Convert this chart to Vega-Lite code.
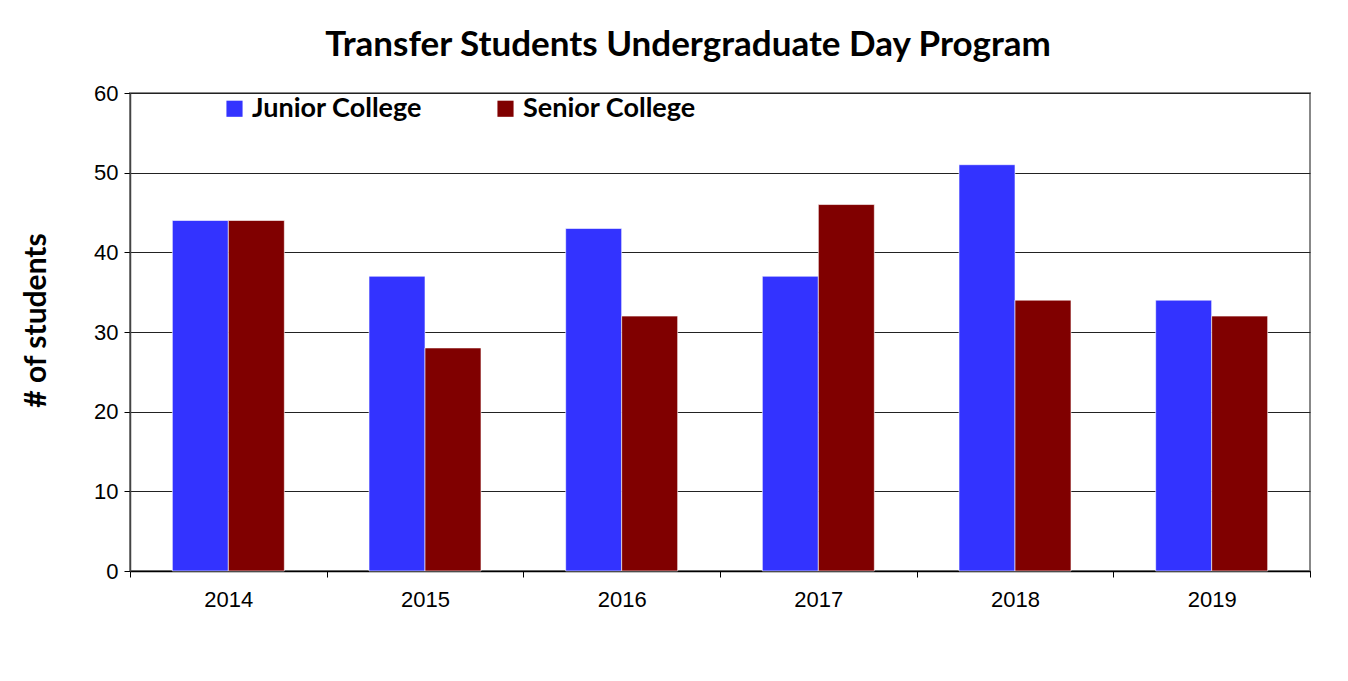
{
  "$schema": "https://vega.github.io/schema/vega-lite/v6.json",
  "width": 1180,
  "height": 478,
  "autosize": {"type": "none"},
  "padding": {"left": 130, "top": 93, "right": 38, "bottom": 110},
  "background": "white",
  "title": {
    "text": "Transfer Students Undergraduate Day Program",
    "font": "Lato",
    "fontSize": 35,
    "fontWeight": "bold",
    "color": "#000000",
    "anchor": "middle",
    "dx": -32,
    "offset": 19
  },
  "data": {
    "values": [
      {"year": "2014", "type": "Junior College", "students": 44},
      {"year": "2014", "type": "Senior College", "students": 44},
      {"year": "2015", "type": "Junior College", "students": 37},
      {"year": "2015", "type": "Senior College", "students": 28},
      {"year": "2016", "type": "Junior College", "students": 43},
      {"year": "2016", "type": "Senior College", "students": 32},
      {"year": "2017", "type": "Junior College", "students": 37},
      {"year": "2017", "type": "Senior College", "students": 46},
      {"year": "2018", "type": "Junior College", "students": 51},
      {"year": "2018", "type": "Senior College", "students": 34},
      {"year": "2019", "type": "Junior College", "students": 34},
      {"year": "2019", "type": "Senior College", "students": 32}
    ]
  },
  "mark": {"type": "bar", "stroke": "#ffffff", "strokeOpacity": 0.6, "strokeWidth": 1},
  "encoding": {
    "x": {
      "field": "year",
      "type": "nominal",
      "scale": {"paddingInner": 0, "paddingOuter": 0},
      "axis": {
        "title": null,
        "labelAngle": 0,
        "labelFont": "Liberation Sans",
        "labelFontSize": 22,
        "labelColor": "#000000",
        "labelPadding": 12,
        "tickBand": "extent",
        "tickSize": 6,
        "tickColor": "#000000",
        "domainColor": "#000000",
        "domainWidth": 1.5,
        "grid": false
      }
    },
    "xOffset": {
      "field": "type",
      "type": "nominal",
      "sort": ["Junior College", "Senior College"],
      "scale": {"paddingInner": 0, "paddingOuter": 0.756}
    },
    "y": {
      "field": "students",
      "type": "quantitative",
      "scale": {"domain": [0, 60], "nice": false},
      "axis": {
        "title": "# of students",
        "titleFont": "Lato",
        "titleFontSize": 30,
        "titleFontWeight": "bold",
        "titleColor": "#000000",
        "titlePadding": 42,
        "titleY": 227,
        "titleAlign": "center",
        "values": [0, 10, 20, 30, 40, 50, 60],
        "labelFont": "Liberation Sans",
        "labelFontSize": 22,
        "labelColor": "#000000",
        "labelPadding": 6,
        "tickSize": 6,
        "tickColor": "#000000",
        "domainColor": "#444444",
        "domainWidth": 1.5,
        "grid": true,
        "gridColor": "#222222",
        "gridWidth": 1
      }
    },
    "color": {
      "field": "type",
      "type": "nominal",
      "scale": {"domain": ["Junior College", "Senior College"], "range": ["#3333FF", "#800000"]},
      "legend": {
        "title": null,
        "orient": "none",
        "direction": "horizontal",
        "legendX": 91,
        "legendY": 2,
        "symbolType": "square",
        "symbolSize": 260,
        "symbolStrokeWidth": 0,
        "labelFont": "Lato",
        "labelFontSize": 27,
        "labelFontWeight": "bold",
        "labelColor": "#000000",
        "labelOffset": 4,
        "columnPadding": 69,
        "labelLimit": 400
      }
    }
  },
  "config": {
    "view": {"stroke": "#888888", "strokeWidth": 2}
  }
}
